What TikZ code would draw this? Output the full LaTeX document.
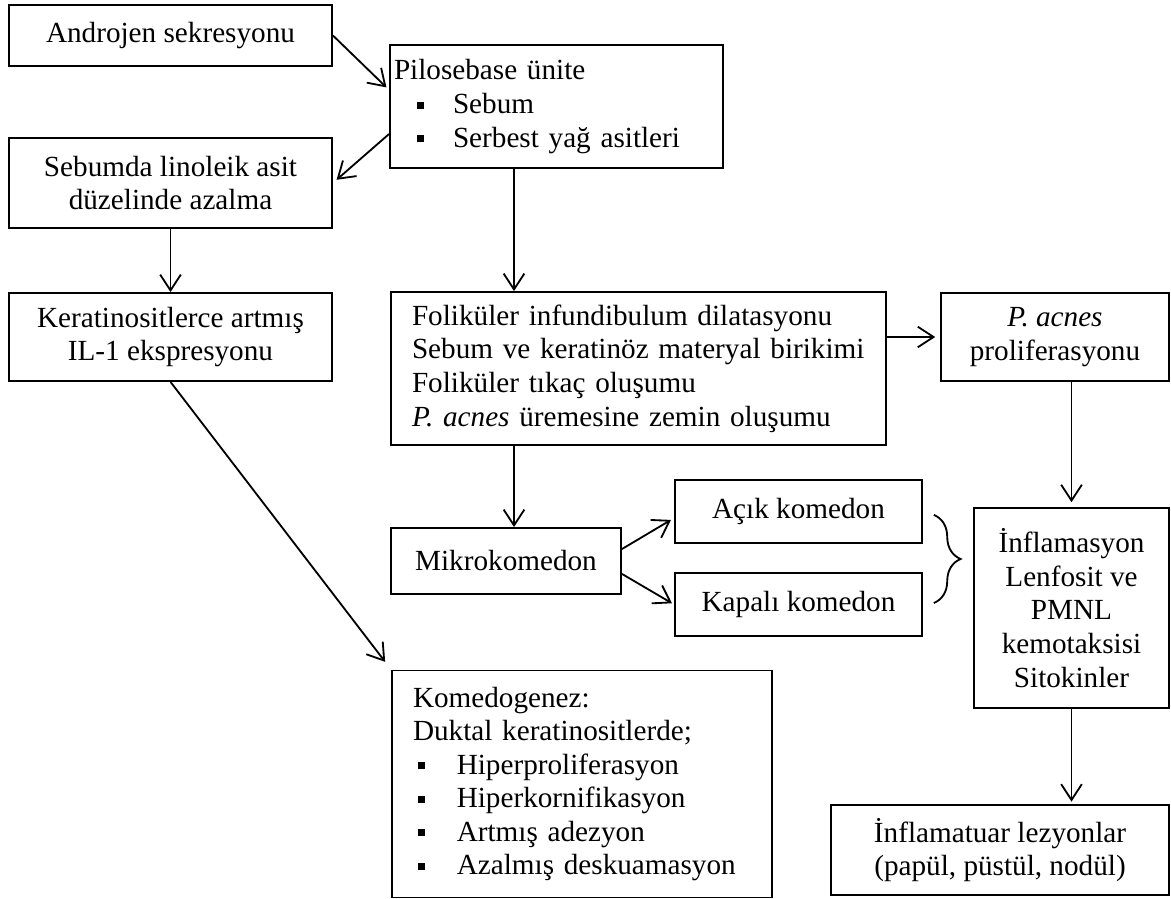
\documentclass[tikz,border=0pt]{standalone}
\usepackage{fontspec}
\setmainfont{Liberation Serif}
\usetikzlibrary{arrows.meta,decorations.pathreplacing}

\newlength{\px}
\setlength{\px}{0.411pt}
% square bullet item: bullet offset, text offset, text
\newcommand{\sqitem}[3]{\makebox[#2][l]{\hspace*{#1}\rule[2pt]{2.9pt}{2.9pt}}#3}

\begin{document}
\begin{tikzpicture}[x=\px, y=-\px,
    box/.style={draw, line width=0.75pt, inner sep=0pt, align=center,
        font=\fontsize{12pt}{13.8pt}\selectfont},
    arr/.style={-{Straight Barb[length=6.5pt,width=8.5pt]}, line width=0.75pt}]

    \useasboundingbox (0,0) rectangle (1171,899);

    % --- Left column ---
    \node[box, minimum width=323\px, minimum height=61\px] (andro) at (170.5,35.5)
        {Androjen sekresyonu};
    \node[box, minimum width=323\px, minimum height=90\px] (sebum) at (170.5,183)
        {Sebumda linoleik asit\\düzelinde azalma};
    \node[box, minimum width=323\px, minimum height=88\px] (kerat) at (170.5,337)
        {Keratinositlerce artmış\\IL-1 ekspresyonu};

    % --- Pilosebaceous unit ---
    \node[box, align=left, inner xsep=4\px, text width=325\px, minimum height=123\px]
        (pilo) at (556.5,106.5)
        {Pilosebase ünite\\
         \sqitem{9.25pt}{24.25pt}{Sebum}\\
         \sqitem{9.25pt}{24.25pt}{Serbest yağ asitleri}};

    % --- Middle column ---
    \node[box, align=left, inner xsep=21\px, text width=453\px, minimum height=153\px]
        (fol) at (638.5,368.5)
        {Foliküler infundibulum dilatasyonu\\
         Sebum ve keratinöz materyal birikimi\\
         Foliküler tıkaç oluşumu\\
         \textit{P. acnes} üremesine zemin oluşumu};
    \node[box, minimum width=230\px, minimum height=66\px] (mikro) at (506,561)
        {Mikrokomedon};
    \node[box, minimum width=247\px, minimum height=63\px] (acik) at (798.5,511.5)
        {Açık komedon};
    \node[box, minimum width=247\px, minimum height=63\px] (kapali) at (798.5,604.5)
        {Kapalı komedon};
    \node[box, align=left, inner xsep=21\px, text width=338\px, minimum height=227\px]
        (komedo) at (582,784)
        {Komedogenez:\\
         Duktal keratinositlerde;\\
         \sqitem{2pt}{18pt}{Hiperproliferasyon}\\
         \sqitem{2pt}{18pt}{Hiperkornifikasyon}\\
         \sqitem{2pt}{18pt}{Artmış adezyon}\\
         \sqitem{2pt}{18pt}{Azalmış deskuamasyon}};

    % --- Right column ---
    \node[box, minimum width=228\px, minimum height=88\px] (pacnes) at (1055,337)
        {\textit{P. acnes}\\proliferasyonu};
    \node[box, minimum width=195\px, minimum height=200\px] (infl) at (1071.5,608)
        {İnflamasyon\\Lenfosit ve\\PMNL\\kemotaksisi\\Sitokinler};
    \node[box, minimum width=338\px, minimum height=90\px] (lez) at (1000,850)
        {İnflamatuar lezyonlar\\(papül, püstül, nodül)};

    % --- Arrows ---
    \coordinate (colA) at (514,0);
    \draw[arr, shorten >=1.5pt] (andro.east) -- ([yshift=6.8pt]pilo.west);
    \draw[arr, shorten >=2pt] ([yshift=-11.3pt]pilo.west) -- (sebum.east);
    \draw[arr] (sebum.south) -- (kerat.north);
    \draw[arr] (pilo.south -| colA) -- (fol.north -| colA);
    \draw[arr] (fol.south -| colA) -- (mikro.north -| colA);
    \draw[arr, shorten >=2pt] (fol.east |- pacnes.west) -- (pacnes.west);
    \draw[arr, shorten >=2pt] (infl.north |- pacnes.south) -- (infl.north);
    \draw[arr, shorten >=1pt] (infl.south) -- (infl.south |- lez.north);
    \draw[arr, shorten >=1.5pt] ([yshift=4.9pt]mikro.east) -- ([yshift=-2.7pt]acik.west);
    \draw[arr, shorten >=1pt] ([yshift=-5.3pt]mikro.east) -- (kapali.west);
    \draw[arr, shorten >=4pt] (kerat.south) -- (komedo.north west);

    % --- Brace (comedones) ---
    \draw[line width=0.75pt, decorate, decoration={brace, amplitude=11pt}]
        ([xshift=4.5pt,yshift=-1.4pt]acik.east) -- ([xshift=4.5pt,yshift=0.6pt]kapali.east);

\end{tikzpicture}
\end{document}
